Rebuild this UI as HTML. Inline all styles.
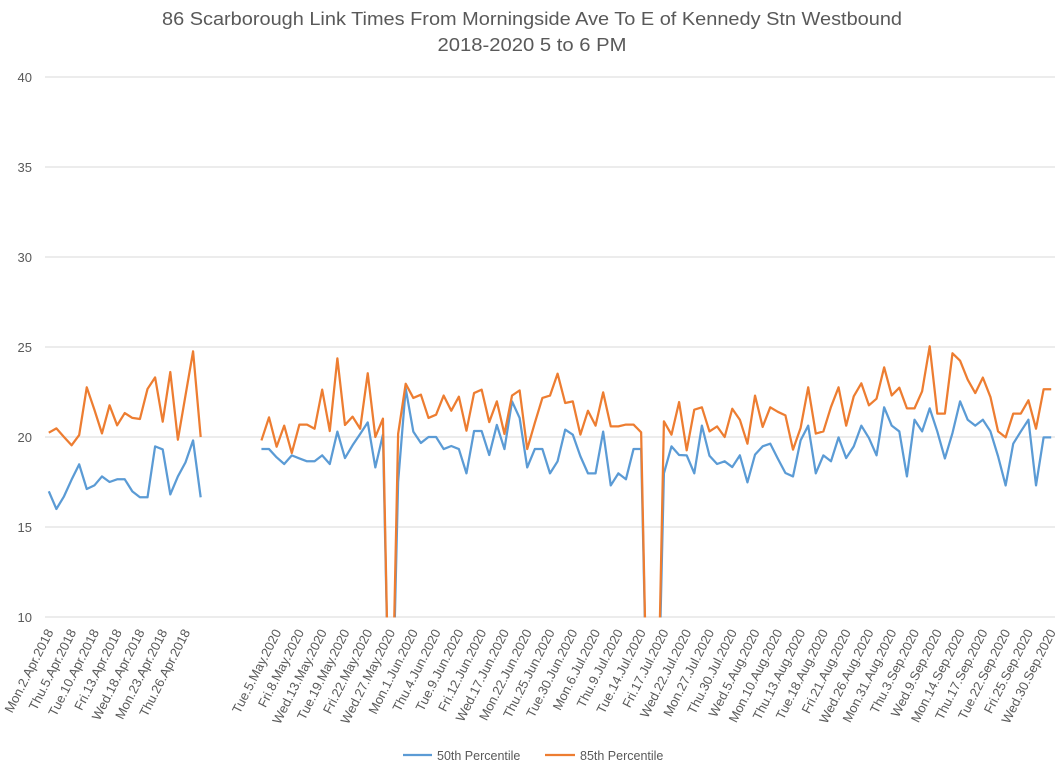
<!DOCTYPE html>
<html><head><meta charset="utf-8"><style>
html,body{margin:0;padding:0;background:#fff;}
svg text{font-family:"Liberation Sans",sans-serif;fill:#595959;}
</style></head><body>
<svg id="chart" width="1061" height="769" viewBox="0 0 1061 769" xmlns="http://www.w3.org/2000/svg">
<text x="532" y="25" font-size="18" text-anchor="middle" textLength="740" lengthAdjust="spacingAndGlyphs">86 Scarborough Link Times From Morningside Ave To E of Kennedy Stn Westbound</text>
<text x="532" y="51" font-size="18" text-anchor="middle" textLength="189" lengthAdjust="spacingAndGlyphs">2018-2020 5 to 6 PM</text>
<g id="grid"></g>
<g id="ylabels"></g>
<g id="xlabels"></g>
<defs><clipPath id="plotclip"><rect x="45" y="70" width="1016" height="547.5"/></clipPath></defs>
<g id="series" clip-path="url(#plotclip)"></g>
<g>
<line x1="403" y1="755" x2="432" y2="755" stroke="#5b9bd5" stroke-width="2.25"/>
<text x="437" y="760" font-size="12.5">50th Percentile</text>
<line x1="545" y1="755" x2="575" y2="755" stroke="#ed7d31" stroke-width="2.25"/>
<text x="580" y="760" font-size="12.5">85th Percentile</text>
</g>
</svg>
<script>
const N = 133;
const yTicks = [10,15,20,25,30,35,40];
const labelIdx = [0,3,6,9,12,15,18,30,33,36,39,42,45,48,51,54,57,60,63,66,69,72,75,78,81,84,87,90,93,96,99,102,105,108,111,114,117,120,123,126,129,132];
const labelTxt = ["Mon.2.Apr.2018","Thu.5.Apr.2018","Tue.10.Apr.2018","Fri.13.Apr.2018","Wed.18.Apr.2018","Mon.23.Apr.2018","Thu.26.Apr.2018",
"Tue.5.May.2020","Fri.8.May.2020","Wed.13.May.2020","Tue.19.May.2020","Fri.22.May.2020","Wed.27.May.2020","Mon.1.Jun.2020","Thu.4.Jun.2020","Tue.9.Jun.2020","Fri.12.Jun.2020","Wed.17.Jun.2020","Mon.22.Jun.2020","Thu.25.Jun.2020","Tue.30.Jun.2020","Mon.6.Jul.2020","Thu.9.Jul.2020","Tue.14.Jul.2020","Fri.17.Jul.2020","Wed.22.Jul.2020","Mon.27.Jul.2020","Thu.30.Jul.2020","Wed.5.Aug.2020","Mon.10.Aug.2020","Thu.13.Aug.2020","Tue.18.Aug.2020","Fri.21.Aug.2020","Wed.26.Aug.2020","Mon.31.Aug.2020","Thu.3.Sep.2020","Wed.9.Sep.2020","Mon.14.Sep.2020","Thu.17.Sep.2020","Tue.22.Sep.2020","Fri.25.Sep.2020","Wed.30.Sep.2020"];
const p50_2018 = [16.98,16.0,16.7,17.63,18.48,17.11,17.31,17.81,17.5,17.65,17.65,16.98,16.65,16.65,19.48,19.31,16.81,17.81,18.59,19.81,16.65];
const p85_2018 = [20.24,20.48,20.0,19.54,20.11,22.76,21.52,20.2,21.76,20.65,21.33,21.06,21.0,22.67,23.31,20.85,23.61,19.85,22.31,24.76,20.0];
const p50_2020 = [19.33,19.33,18.87,18.5,18.98,18.81,18.65,18.65,18.98,18.5,20.3,18.83,19.54,20.17,20.81,18.31,20.13,0,17.5,22.69,20.3,19.67,20.0,20.0,19.33,19.5,19.33,17.98,20.33,20.33,19.0,20.67,19.33,21.98,21.06,
18.31,19.33,19.33,17.98,18.65,20.41,20.13,18.93,17.98,17.98,20.3,17.31,17.98,17.65,19.33,19.33,0,0,17.98,19.48,19.0,18.98,17.98,20.63,18.96,18.5,18.65,18.33,18.98,17.48,19.02,19.48,19.63,
18.8,18.0,17.81,19.81,20.63,17.98,18.98,18.65,19.98,18.83,19.48,20.63,19.94,18.98,21.65,20.63,20.31,17.81,20.96,20.31,21.59,20.31,18.81,20.22,21.98,20.96,20.63,20.96,20.31,18.93,17.31,19.63,20.31,20.96,17.31,19.98,19.98];
const p85_2020 = [19.81,21.09,19.46,20.63,19.11,20.69,20.69,20.46,22.63,20.33,24.37,20.67,21.13,20.46,23.54,20.0,21.02,0,20.17,22.96,22.17,22.35,21.06,21.24,22.3,21.46,22.24,20.35,22.44,22.63,20.83,21.98,20.17,22.3,22.59,
19.33,20.78,22.17,22.3,23.52,21.89,21.98,20.13,21.46,20.63,22.48,20.59,20.59,20.69,20.69,20.26,0,0,20.87,20.13,21.94,19.26,21.52,21.65,20.31,20.59,20.0,21.57,20.96,19.63,22.3,20.56,21.65,
21.4,21.2,19.3,20.5,22.76,20.19,20.31,21.67,22.76,20.63,22.26,22.98,21.76,22.13,23.87,22.31,22.74,21.59,21.59,22.54,25.04,21.3,21.3,24.65,24.24,23.19,22.44,23.3,22.22,20.31,19.98,21.3,21.3,22.04,20.46,22.65,22.65];
const gapCount = 7;

const X0 = 45, X1 = 1055, Y10 = 617, PXU = 18;
const w = (X1 - X0) / N;
function xScale(i){ return X0 + (i + 0.5) * w; }
function yScale(v){ return Y10 - (v - 10) * PXU; }
const NS = "http://www.w3.org/2000/svg";
function mk(tag, parent){ const e = document.createElementNS(NS, tag); parent.appendChild(e); return e; }

const grid = document.getElementById('grid');
const yl = document.getElementById('ylabels');
yTicks.forEach(t => {
  const l = mk('line', grid);
  
  
  l.setAttribute('x1', X0); l.setAttribute('x2', X1);
  l.setAttribute('y1', yScale(t)); l.setAttribute('y2', yScale(t));
  l.setAttribute('stroke', '#d9d9d9'); l.setAttribute('stroke-width', '1');
  const tx = mk('text', yl);
  
  
  tx.setAttribute('x', 32); tx.setAttribute('y', yScale(t) + 5);
  tx.setAttribute('text-anchor', 'end'); tx.setAttribute('font-size', '13');
  tx.textContent = t;
});

const xl = document.getElementById('xlabels');
labelIdx.forEach((idx, k) => {
  const x = xScale(idx) + 5, y = 632;
  const tx = mk('text', xl);
  
  
  tx.setAttribute('x', x); tx.setAttribute('y', y);
  tx.setAttribute('font-size', '13');
  tx.setAttribute('text-anchor', 'end');
  tx.setAttribute('transform', 'rotate(-63 ' + x + ' ' + y + ')');
  tx.textContent = labelTxt[k];
});

function values(a, b){
  const arr = a.slice();
  for (let i = 0; i < gapCount; i++) arr.push(null);
  return arr.concat(b);
}
const ser = document.getElementById('series');
function drawLine(vals, color, name){
  let d = '', pen = false;
  vals.forEach((v, i) => {
    if (v === null) { pen = false; return; }
    d += (pen ? 'L' : 'M') + xScale(i).toFixed(2) + ' ' + yScale(v).toFixed(2) + ' ';
    pen = true;
  });
  const p = mk('path', ser);
  
  
  p.setAttribute('d', d); p.setAttribute('fill', 'none');
  p.setAttribute('stroke', color); p.setAttribute('stroke-width', '2.25');
  p.setAttribute('stroke-linejoin', 'round');
}
drawLine(values(p50_2018, p50_2020), '#5b9bd5', 'series-50th-percentile');
drawLine(values(p85_2018, p85_2020), '#ed7d31', 'series-85th-percentile');
</script>
</body></html>
